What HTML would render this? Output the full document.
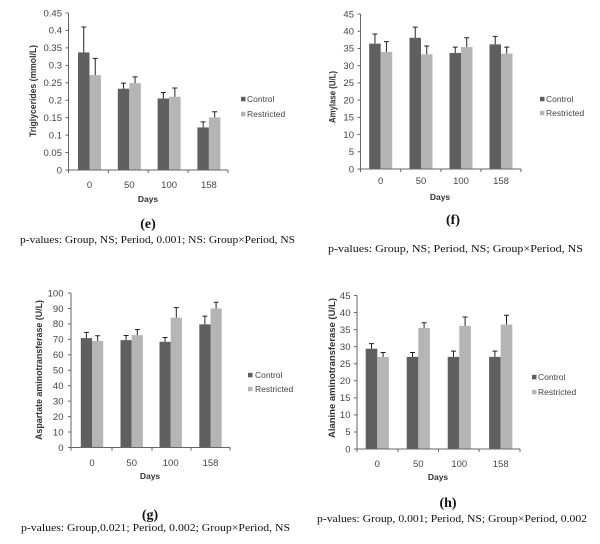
<!DOCTYPE html>
<html><head><meta charset="utf-8"><style>
html,body{margin:0;padding:0;background:#fff;}
svg{display:block;}
.tk{font-family:"Liberation Sans",sans-serif;font-size:9.5px;fill:#444;}
.lg{font-family:"Liberation Sans",sans-serif;font-size:8.5px;fill:#444;}
.yl{font-family:"Liberation Sans",sans-serif;font-weight:bold;fill:#333;}
.dy{font-family:"Liberation Sans",sans-serif;font-weight:bold;font-size:8.5px;fill:#333;}
.pl{font-family:"Liberation Serif",serif;font-weight:bold;font-size:14px;fill:#111;}
.pv{font-family:"Liberation Serif",serif;font-size:10.5px;fill:#111;}
.ax{stroke:#666;stroke-width:1;fill:none;}
.er{stroke:#222;stroke-width:1;fill:none;}
.c{fill:#5f5f5f;}
.r{fill:#b5b5b5;}
</style></head><body>
<svg width="600" height="544" viewBox="0 0 600 544" xmlns="http://www.w3.org/2000/svg">
<rect width="600" height="544" fill="#fff"/>

<!-- ===== Panel (e) ===== -->
<g>
<rect class="c" x="78" y="52.42" width="11.5" height="117.58"/>
<rect class="c" x="117.8" y="88.71" width="11.5" height="81.29"/>
<rect class="c" x="157.6" y="98.48" width="11.5" height="71.52"/>
<rect class="c" x="197.4" y="127.43" width="11.5" height="42.57"/>
<rect class="r" x="89.5" y="75.10" width="11.5" height="94.9"/>
<rect class="r" x="129.3" y="83.12" width="11.5" height="86.88"/>
<rect class="r" x="169.1" y="96.73" width="11.5" height="73.27"/>
<rect class="r" x="208.9" y="117.32" width="11.5" height="52.68"/>
<path class="er" d="M83.75 26.95V52.4M81.25 26.95H86.25 M123.55 83.12V88.7M121.05 83.12H126.05 M163.35 92.54V98.5M160.85 92.54H165.85 M203.15 121.85V127.4M200.65 121.85H205.65 M95.25 58.35V75.1M92.75 58.35H97.75 M135.05 76.84V83.1M132.55 76.84H137.55 M174.85 88.01V96.7M172.35 88.01H177.35 M214.65 111.73V117.3M212.15 111.73H217.15"/>
<path class="ax" d="M68.5 13V170H228 M65.5 170H68.5M65.5 152.56H68.5M65.5 135.11H68.5M65.5 117.67H68.5M65.5 100.22H68.5M65.5 82.78H68.5M65.5 65.33H68.5M65.5 47.89H68.5M65.5 30.44H68.5M65.5 13H68.5 M68.5 170V173M108.4 170V173M148.2 170V173M188.1 170V173M228 170V173"/>
<g class="tk" text-anchor="end">
<text x="62" y="173.3">0</text><text x="62" y="155.9">0.05</text><text x="62" y="138.4">0.1</text><text x="62" y="121">0.15</text><text x="62" y="103.5">0.2</text><text x="62" y="86.1">0.25</text><text x="62" y="68.6">0.3</text><text x="62" y="51.2">0.35</text><text x="62" y="33.7">0.4</text><text x="62" y="16.3">0.45</text>
</g>
<g class="tk" text-anchor="middle">
<text x="89.5" y="188">0</text><text x="129.3" y="188">50</text><text x="169.1" y="188">100</text><text x="208.9" y="188">158</text>
</g>
<text class="dy" x="148" y="202" text-anchor="middle">Days</text>
<text class="yl" font-size="9" transform="translate(36,91) rotate(-90)" text-anchor="middle" textLength="92" lengthAdjust="spacingAndGlyphs">Triglycerides (mmol/L)</text>
<rect class="c" x="241" y="96.8" width="4.5" height="4.5"/>
<rect class="r" x="241" y="111.8" width="4.5" height="4.5"/>
<text class="lg" x="247" y="102">Control</text>
<text class="lg" x="247" y="117">Restricted</text>
<text class="pl" x="148" y="228" text-anchor="middle">(e)</text>
<text class="pv" x="20" y="243" textLength="275" lengthAdjust="spacingAndGlyphs">p-values: Group, NS; Period, 0.001; NS: Group×Period, NS</text>
</g>

<!-- ===== Panel (f) ===== -->
<g>
<rect class="c" x="369.2" y="43.64" width="11.5" height="125.36"/>
<rect class="c" x="409.5" y="37.78" width="11.5" height="131.22"/>
<rect class="c" x="449.5" y="52.94" width="11.5" height="116.06"/>
<rect class="c" x="489.5" y="44.33" width="11.5" height="124.67"/>
<rect class="r" x="380.7" y="51.90" width="11.5" height="117.1"/>
<rect class="r" x="421" y="54.31" width="11.5" height="114.69"/>
<rect class="r" x="461" y="47.08" width="11.5" height="121.92"/>
<rect class="r" x="501" y="53.63" width="11.5" height="115.37"/>
<path class="er" d="M374.95 33.98V43.6M372.45 33.98H377.45 M415.25 27.09V37.8M412.75 27.09H417.75 M455.25 47.08V52.9M452.75 47.08H457.75 M495.25 36.41V44.3M492.75 36.41H497.75 M386.45 41.57V51.9M383.95 41.57H388.95 M426.75 46.05V54.3M424.25 46.05H429.25 M466.75 37.78V47.1M464.25 37.78H469.25 M506.75 47.08V53.6M504.25 47.08H509.25"/>
<path class="ax" d="M360.5 14V169H521 M357.5 169H360.5M357.5 151.78H360.5M357.5 134.56H360.5M357.5 117.33H360.5M357.5 100.11H360.5M357.5 82.89H360.5M357.5 65.67H360.5M357.5 48.44H360.5M357.5 31.22H360.5M357.5 14H360.5 M360.5 169V172M400.7 169V172M441 169V172M481 169V172M521 169V172"/>
<g class="tk" text-anchor="end">
<text x="354" y="172.3">0</text><text x="354" y="155.1">5</text><text x="354" y="137.9">10</text><text x="354" y="120.6">15</text><text x="354" y="103.4">20</text><text x="354" y="86.2">25</text><text x="354" y="69">30</text><text x="354" y="51.7">35</text><text x="354" y="34.5">40</text><text x="354" y="17.3">45</text>
</g>
<g class="tk" text-anchor="middle">
<text x="380.7" y="184">0</text><text x="421" y="184">50</text><text x="461" y="184">100</text><text x="501" y="184">158</text>
</g>
<text class="dy" x="440" y="200" text-anchor="middle">Days</text>
<text class="yl" font-size="9.5" transform="translate(335.5,97) rotate(-90)" text-anchor="middle" textLength="52" lengthAdjust="spacingAndGlyphs">Amylase (U/L)</text>
<rect class="c" x="540" y="96.8" width="4.5" height="4.5"/>
<rect class="r" x="540" y="110.8" width="4.5" height="4.5"/>
<text class="lg" x="546" y="102">Control</text>
<text class="lg" x="546" y="116">Restricted</text>
<text class="pl" x="453" y="224" text-anchor="middle">(f)</text>
<text class="pv" x="328" y="252" textLength="255" lengthAdjust="spacingAndGlyphs">p-values: Group, NS; Period, NS; Group×Period, NS</text>
</g>

<!-- ===== Panel (g) ===== -->
<g>
<rect class="c" x="80.8" y="338.11" width="11.2" height="109.39"/>
<rect class="c" x="120.5" y="340.12" width="11.2" height="107.38"/>
<rect class="c" x="159.5" y="341.82" width="11.2" height="105.68"/>
<rect class="c" x="199.3" y="324.36" width="11.2" height="123.14"/>
<rect class="r" x="92" y="340.90" width="11.2" height="106.6"/>
<rect class="r" x="131.7" y="335.18" width="11.2" height="112.32"/>
<rect class="r" x="170.7" y="317.72" width="11.2" height="129.78"/>
<rect class="r" x="210.5" y="308.45" width="11.2" height="139.05"/>
<path class="er" d="M86.4 332.40V338.1M83.9 332.40H88.9 M126.1 335.49V340.1M123.6 335.49H128.6 M165.1 337.50V341.8M162.6 337.50H167.6 M204.9 316.18V324.4M202.4 316.18H207.4 M97.6 335.80V340.9M95.1 335.80H100.1 M137.3 329.46V335.2M134.8 329.46H139.8 M176.3 307.68V317.7M173.8 307.68H178.8 M216.1 302.27V308.5M213.6 302.27H218.6"/>
<path class="ax" d="M71 293V447.5H230 M68 447.5H71M68 432.05H71M68 416.6H71M68 401.15H71M68 385.7H71M68 370.25H71M68 354.8H71M68 339.35H71M68 323.9H71M68 308.45H71M68 293H71 M71 447.5V450.5M112 447.5V450.5M152 447.5V450.5M191 447.5V450.5M230 447.5V450.5"/>
<g class="tk" text-anchor="end">
<text x="63.5" y="450.8">0</text><text x="63.5" y="435.4">10</text><text x="63.5" y="419.9">20</text><text x="63.5" y="404.5">30</text><text x="63.5" y="389">40</text><text x="63.5" y="373.6">50</text><text x="63.5" y="358.1">60</text><text x="63.5" y="342.7">70</text><text x="63.5" y="327.2">80</text><text x="63.5" y="311.8">90</text><text x="63.5" y="296.3">100</text>
</g>
<g class="tk" text-anchor="middle">
<text x="92" y="466">0</text><text x="131.7" y="466">50</text><text x="170.7" y="466">100</text><text x="210.5" y="466">158</text>
</g>
<text class="dy" x="150" y="479" text-anchor="middle">Days</text>
<text class="yl" font-size="9" transform="translate(42,370) rotate(-90)" text-anchor="middle" textLength="140" lengthAdjust="spacingAndGlyphs">Aspartate aminotransferase (U/L)</text>
<rect class="c" x="248" y="372.8" width="4.5" height="4.5"/>
<rect class="r" x="248" y="386.8" width="4.5" height="4.5"/>
<text class="lg" x="255" y="378">Control</text>
<text class="lg" x="255" y="392">Restricted</text>
<text class="pl" x="150" y="519" text-anchor="middle">(g)</text>
<text class="pv" x="21" y="531" textLength="269" lengthAdjust="spacingAndGlyphs">p-values: Group,0.021; Period, 0.002; Group×Period, NS</text>
</g>

<!-- ===== Panel (h) ===== -->
<g>
<rect class="c" x="365.7" y="348.72" width="11.6" height="100.28"/>
<rect class="c" x="406.7" y="356.90" width="11.6" height="92.1"/>
<rect class="c" x="447.7" y="356.90" width="11.6" height="92.1"/>
<rect class="c" x="489.1" y="356.90" width="11.6" height="92.1"/>
<rect class="r" x="377.3" y="356.90" width="11.6" height="92.1"/>
<rect class="r" x="418.3" y="327.91" width="11.6" height="121.09"/>
<rect class="r" x="459.3" y="325.86" width="11.6" height="123.14"/>
<rect class="r" x="500.7" y="324.50" width="11.6" height="124.5"/>
<path class="er" d="M371.5 343.60V348.7M369 343.60H374 M412.5 352.47V356.9M410 352.47H415 M453.5 351.10V356.9M451 351.10H456 M494.9 351.10V356.9M492.4 351.10H497.4 M383.1 352.47V356.9M380.6 352.47H385.6 M424.1 322.79V327.9M421.6 322.79H426.6 M465.1 316.99V325.9M462.6 316.99H467.6 M506.5 315.29V324.5M504 315.29H509"/>
<path class="ax" d="M357 295.5V449H520 M354 449H357M354 431.94H357M354 414.89H357M354 397.83H357M354 380.78H357M354 363.72H357M354 346.67H357M354 329.61H357M354 312.56H357M354 295.5H357 M357 449V452M398 449V452M438.5 449V452M479 449V452M520 449V452"/>
<g class="tk" text-anchor="end">
<text x="350.5" y="452.3">0</text><text x="350.5" y="435.2">5</text><text x="350.5" y="418.2">10</text><text x="350.5" y="401.1">15</text><text x="350.5" y="384.1">20</text><text x="350.5" y="367">25</text><text x="350.5" y="350">30</text><text x="350.5" y="332.9">35</text><text x="350.5" y="315.9">40</text><text x="350.5" y="298.8">45</text>
</g>
<g class="tk" text-anchor="middle">
<text x="377.3" y="467">0</text><text x="418.3" y="467">50</text><text x="459.3" y="467">100</text><text x="500.7" y="467">158</text>
</g>
<text class="dy" x="438" y="480" text-anchor="middle">Days</text>
<text class="yl" font-size="9" transform="translate(335,368) rotate(-90)" text-anchor="middle" textLength="140" lengthAdjust="spacingAndGlyphs">Alanine aminotransferase (U/L)</text>
<rect class="c" x="532" y="374.8" width="4.5" height="4.5"/>
<rect class="r" x="532" y="389.8" width="4.5" height="4.5"/>
<text class="lg" x="538" y="380">Control</text>
<text class="lg" x="538" y="395">Restricted</text>
<text class="pl" x="448" y="507" text-anchor="middle">(h)</text>
<text class="pv" x="317" y="522" textLength="270" lengthAdjust="spacingAndGlyphs">p-values: Group, 0.001; Period, NS; Group×Period, 0.002</text>
</g>
</svg>
</body></html>
